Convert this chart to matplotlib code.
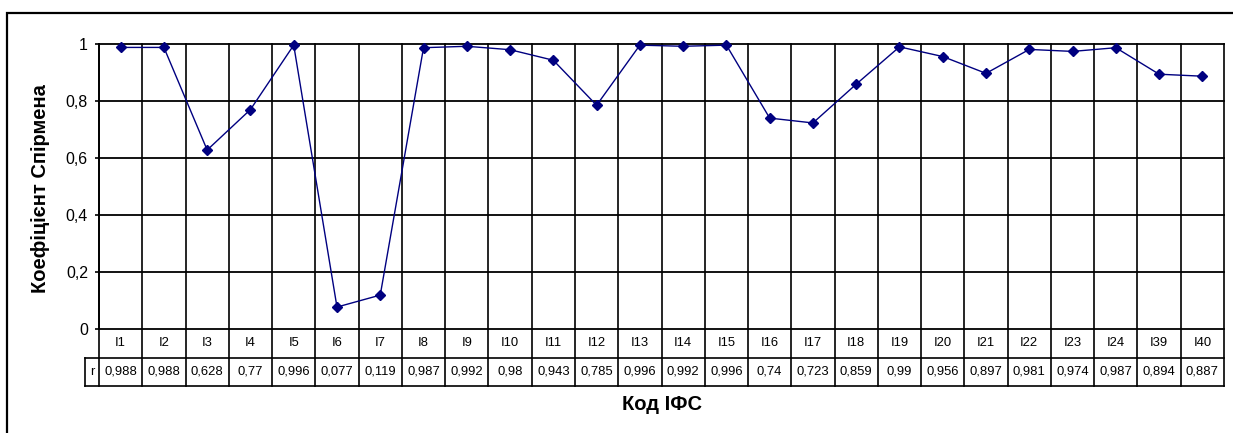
import numpy as np
import matplotlib
matplotlib.use("Agg")
import matplotlib.pyplot as plt
import matplotlib.transforms as mtransforms
from matplotlib.patches import Rectangle
from matplotlib.ticker import FuncFormatter

plt.rcParams['font.family'] = ['Liberation Sans', 'DejaVu Sans']

codes = ["I1", "I2", "I3", "I4", "I5", "I6", "I7", "I8", "I9", "I10", "I11", "I12", "I13",
         "I14", "I15", "I16", "I17", "I18", "I19", "I20", "I21", "I22", "I23", "I24", "I39", "I40"]
r_values = [0.988, 0.988, 0.628, 0.77, 0.996, 0.077, 0.119, 0.987, 0.992, 0.98, 0.943, 0.785, 0.996,
            0.992, 0.996, 0.74, 0.723, 0.859, 0.99, 0.956, 0.897, 0.981, 0.974, 0.987, 0.894, 0.887]
y_ticks = [0, 0.2, 0.4, 0.6, 0.8, 1.0]

W, H = 1233, 433
fig = plt.figure(figsize=(W / 100, H / 100), dpi=100)
fig.patch.set_facecolor("white")
# chart border (only top and left visible)
fig.patches.append(Rectangle((7 / W, -0.1), 1.2, (H - 13) / H + 0.1, transform=fig.transFigure,
                             fill=False, edgecolor="black", lw=1.6))

ax = fig.add_axes([99 / W, 1 - 329 / H, (1224 - 99) / W, (329 - 44) / H])
n = len(codes)
x = np.arange(n)
ax.plot(x, r_values, color="#000080", lw=1.0, marker="D", ms=5.5, mfc="#000080", mec="#000080",
        zorder=5, clip_on=False)
ax.set_xlim(-0.5, n - 0.5)
ax.set_ylim(0, 1)

for s in ["top", "right", "bottom"]:
    ax.spines[s].set_visible(False)
ax.spines["left"].set_linewidth(1.3)

ax.set_yticks(y_ticks)
ax.yaxis.set_major_formatter(FuncFormatter(lambda v, p: ("%g" % v).replace(".", ",")))
ax.tick_params(axis="y", direction="out", length=3, width=1.2, labelsize=11.5, pad=5)
ax.set_xticks([])
ax.grid(False)
for yv in y_ticks:
    ax.axhline(yv, color="black", lw=1.3, zorder=1, clip_on=False)

# category gridlines running down through the data table
trans = mtransforms.blended_transform_factory(ax.transData, ax.transAxes)
row_h = 0.1
r_w = 14 / ((1224 - 99) / n)
for k in range(n + 1):
    ax.plot([k - 0.5, k - 0.5], [1, -2 * row_h], color="black", lw=1.2, transform=trans, clip_on=False)
ax.plot([-0.5 - r_w, n - 0.5], [-row_h, -row_h], color="black", lw=1.2, transform=trans, clip_on=False)
ax.plot([-0.5 - r_w, n - 0.5], [-2 * row_h, -2 * row_h], color="black", lw=1.2, transform=trans,
        clip_on=False)
ax.plot([-0.5 - r_w, -0.5 - r_w], [-row_h, -2 * row_h], color="black", lw=1.2, transform=trans,
        clip_on=False)

for i in range(n):
    ax.text(i, -row_h / 2, codes[i], ha="center", va="center", fontsize=9.4, transform=trans)
    ax.text(i, -1.5 * row_h, str(r_values[i]).replace(".", ","), ha="center", va="center",
            fontsize=9.4, transform=trans)
ax.text(-0.5 - r_w / 2, -1.5 * row_h, "r", ha="center", va="center", fontsize=9.4, transform=trans)

fig.text(41 / W, 1 - 189 / H, "Коефіцієнт Спірмена", rotation=90, ha="center", va="center",
         fontsize=14.5, fontweight="bold")
fig.text(662 / W, 1 - 404 / H, "Код ІФС", ha="center", va="center", fontsize=14.5, fontweight="bold")

fig.savefig("out.png", dpi=100)
